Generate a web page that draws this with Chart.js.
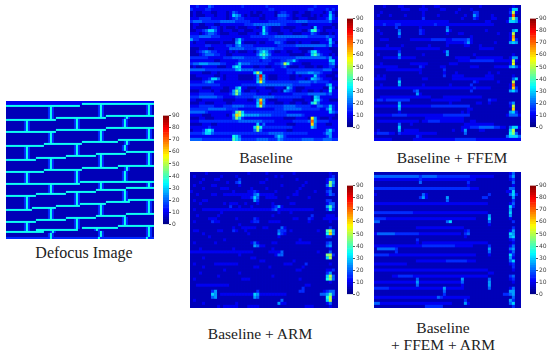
<!DOCTYPE html>
<html>
<head>
<meta charset="utf-8">
<script src="https://cdn.jsdelivr.net/npm/chart.js@4"></script>
<style>
  html, body { margin: 0; background: #fff; }
  #page { position: relative; width: 550px; height: 355px; overflow: hidden; }
  canvas { position: absolute; }
  canvas.heat { filter: blur(0.6px); background: #0000c8; }
  .caption { position: absolute; transform: translateX(-50%); white-space: nowrap; color: #222;
    font: 15.5px/18px "Liberation Serif", serif; }
</style>
</head>
<body>
<div id="page"></div>
<script>
// Error maps, one string per row. Each character is a level, value = level * 5 (0..90)
const defocusRows = [
  '22222222222222222222222222222222222222222222222222222222222222222222222222',
  '22222222222222222222222222222222222222777777777777777777777777777777777777',
  '77777777777777777777777777777777777771111111113731111111111111111111113731',
  '11111111111111111111137311111111111111111111113731111111111111111111113731',
  '11111111111111111111137311111111111111111111113731111111111111111111113731',
  '11111111111111111111137311111111111111111111113731111111111111111111113731',
  '11111111111111111111137311111111111111111111113731111111111111111111113731',
  '11111111111111111111137311111111111111111111113731777777777777777777777777',
  '11111111111111111111137317777777777777777777777777111111111373111111111111',
  '77777777777777777777777771111111113731111111111111111111113731111111111111',
  '11111111137311111111111111111111113731111111111111111111113731111111111111',
  '11111111137311111111111111111111113731111111111111111111113731111111111111',
  '11111111137311111111111111111111113731111111111111111111113731111111111111',
  '11111111137311111111111111111111113731111111111111777777777777777777777777',
  '11111111137311111111111117777777777777777777777777111111111111111111113731',
  '77777777777777777777777771111111111111111111113731111111111111111111113731',
  '11111111111111111111137311111111111111111111113731111111111111111111113731',
  '11111111111111111111137311111111111111111111113731111111111111111111113731',
  '11111111111111111111137311111111111111111111113731111111111111111111113731',
  '11111111111111111111137311111111111111111111113731111111777777777777777777',
  '11111111111111111111137311111111111111777777777777777777111373111111111111',
  '11111111111111111117777777777777777777111111111111111111111373111111111111',
  '77777777777777777771111111111111113731111111111111111111113731111111111111',
  '11111111137311111111111111111111113731111111111111111111113731111111111111',
  '11111111137311111111111111111111113731111111111111111111113731111111111111',
  '11111111137311111111111111111111113731111111111111111111111177777777777777',
  '11111111137311111111111111111111113731111111177777777777777711111111113731',
  '11111111137311111111111111111177777777777777713731111111111111111111113731',
  '11111111137311177777777777777711111111111111113731111111111111111111113731',
  '77777777777777711111137311111111111111111111113731111111111111111111113731',
  '11111111111111111111137311111111111111111111113731111111111111111111113731',
  '11111111111111111111137311111111111111111111113731111111111111111111113731',
  '11111111111111111111137311111111111111111111113731111111777777777777777777',
  '11111111111111111111137311111111111111777777777777777777111373111111111111',
  '11111111111111111117777777777777777777111111111111111111111373111111111111',
  '77777777777777777771111111111111113731111111111111111111113731111111111111',
  '11111111137311111111111111111111113731111111111111111111113731111111111111',
  '11111111137311111111111111111111113731111111111111111111113731111111111111',
  '11111111137311111111111111111111113731111111111111111111113731111111111111',
  '11111111137311111111111111111111113731111111111111111111113731111111111111',
  '11111111137311111111111111111111113737777777777777777777777777777777777777',
  '77777777777777777777777777777777777771111111113731111111111111111111113731',
  '11111111111111111111137311111111111111111111113731111111111111111111113731',
  '11111111111111111111137311111111111111111111113731111111111177777777777777',
  '11111111111111111111137311111111111111111111177777777777777711111111111111',
  '11111111111111111111137311111177777777777777711111111111113731111111111111',
  '11111111111111177777777777777711113731111111111111111111113731111111111111',
  '77777777777777711111111111111111113731111111111111111111113731111111111111',
  '11111111137311111111111111111111113731111111111111111111113731111111111111',
  '11111111137311111111111111111111113731111111111111111111113737777777777777',
  '11111111137311111111111111111111113731111111111111777777777777111111113731',
  '11111111137311111111111111111111113737777777777777111111111111111111113731',
  '11111111137311111111111117777777777771111111113731111111111111111111113731',
  '11111111137317777777777771111111111111111111113731111111111111111111113731',
  '77777777777771111111137311111111111111111111113731111111111111111111113731',
  '11111111111111111111137311111111111111111111113731111111111111111111113731',
  '11111111111111111111137311111111111111111111113731111111111177777777777777',
  '11111111111111111111137311111111111111111111177777777777777711111111111111',
  '11111111111111111111137311111177777777777777711111111111113731111111111111',
  '11111111111111177777777777777711113731111111111111111111113731111111111111',
  '77777777777777711111111111111111113731111111111111111111113731111111111111',
  '11111111137311111111111111111111113731111111111111111111113731111111111111',
  '11111111137311111111111111111111113731111111111111111111777777777777777777',
  '11111111137311111111111111111111113731777777777777777777111111111111113731',
  '11111111137311177777777777777777777711111111373111111111111111111111113731',
  '77777777777777777771113731111111111111111111113731111111111111111111113731',
  '11111111111111111111137311111111111111111111113731111111111111111111113731',
  '11111111111111111111137311111111111111111111113731111111111111111111113731',
  '33333333333333333333337333333333333333333333337333333333333333333333337333'
];
const baselineRows = [
  '2232224322222222232222222322222222222222232222222',
  '3222233222222222222222222233222222222223322223232',
  '1211222112221243222212112222123322112211222212521',
  '1211122212221265421211121222144432122111212122631',
  '2223333222221234332222211222233322112221112223632',
  '3444333333444443333322222233333333344443333333422',
  '1221122211222222223334444444443322222112222222211',
  '1211112332121112111222126321112111122222162211121',
  '1122346642122211221112227321112221222113783212222',
  '2221234432111222111222136422211222111222432111212',
  '3334444333222222222233333333444444444443333334332',
  '5332222222222214632222222233333322222222222223622',
  '2122211111211115721111211222443211121222111222631',
  '2222233222223324533332222222233333344444444443522',
  '1112221122222444443333444444333222221111122222111',
  '1123454332221212111221357532112211222113673222211',
  '1112344433221122222222478642222221111122685322121',
  '3333332222233344443333346433333333344444444443522',
  '2222222211222222333333323332223344632222222222662',
  '3445554444332223644433333322334a73222111222222452',
  '1211222221112257622221122112223421112211121122331',
  '4444433333333335644443333333222233333333333344422',
  '2222111221222222222226a62222222233244445544322211',
  '11222222112122221111125g5211122221121222263221112',
  '11112236642122221111125e5211122221122212654322211',
  '22223454222222222222226b5333333333334444343333222',
  '3333333333222222233333344444444444333333222224622',
  '2222111222211225722111222111222164211122222211731',
  '1112222122111259621122122221121543211221122122722',
  '2223333322222359533333222212222222333334444443422',
  '3334444443322223333334444444333333333222165222222',
  '22112222222111122221125c5211122222111122176322111',
  '11122111222211222222226e5222111221122112684222222',
  '22233333222333444433336a4333333444433333224433632',
  '3333334444443333222222222222333444444333333224732',
  '4444432222222238a63333333333333322222222222222643',
  '222211122222125ca75555544443333344444322222222221',
  '1112211122222249632222222222222111122221b52111211',
  '2223333333333333444444443333222222333334e53333222',
  '1111222112222222222222624222222211122222c42221122',
  '2222223222222222222226a733333333332222226422222222',
  '1222367522222222222224942222222211222222222224632',
  '3333466433333333333333333344444333333332222235522',
  '2222222222222276422222222222465322222222222223522',
  '4444333333333386533333444433354333333444433344433'
];
const ffemRows = [
  '1112111122111111211122111111111111121111111111211',
  '1111111112221112221111221111211121111111111112661',
  '1121111111111111211111111112111113311111111113a21',
  '1211121111211111211112111111112115311112111112e11',
  '1111111111111111311111111111121113211112211115a51',
  '2222222222222222222222222111111111111221111126652',
  '2223222332222222222232222222222222222222111111111',
  '1111111311111112111111114111111111111111111111111',
  '1211111141111113211111115211111111111211111111561',
  '1121111151111113211111112111221111111111121112a11',
  '1111111131111111111111111111111121111111111112d11',
  '1122211111112222222333332233333421111111111112c31',
  '1111111111111111111111112222223521111111211115651',
  '1111211112111111112111112111112211121111111111111',
  '2222222221111122222222111111111111122222111111111',
  '1111111131111111111111125111111111111111111111111',
  '1211111151111111211111115111111112111111111111211',
  '1112222242222211111111111112222211222222222112551',
  '1111111111111111111111111111222233333333222222a21',
  '1121111111112222221111111222111111111111111112b11',
  '2222222211111113211111221111111122211111222225642',
  '1111222222222222111111131111111111111111111111111',
  '1111111111111112111111121112111111111121121111111',
  '1212111111111111111111131122221111111222111111211',
  '2222111131111111221111111122222222222222111111461',
  '1111111161111111111111111111111113211111121111a11',
  '1121111151111111211111111211111131111111111112e11',
  '2222222222222222222222222222222223222221111112c31',
  '1111111111111341111111111111111131111111111115641',
  '1111111111111152111111111111111111111111111111111',
  '1122222222222222222111122222222222221111111111111',
  '2332333333331111111222222222211111111132211111111',
  '1111111151111111111111111211111111221121111113511',
  '2222222262222222222333333333333311111111111112a11',
  '1111111151111111111111111111111221111111111111c11',
  '1111111121111111111111111111121211111111111115631',
  '2222223333322222222222233333333311111111111124442',
  '1111111111111111122222222222221111111111111111111',
  '1222222222222221223333222222221122111111111111111',
  '1111111141112111111111111111112222222222111111111',
  '1111111161111111111111111111122233344444332214662',
  '1211111151222221111111111121125111122111111116a11',
  '2333322132222222222221111111114111111111111117941',
  '1111111111111132111111111111111111111111111146664',
  '2222221111111222222222222223333333222222222222222'
];
const armRows = [
  '1111121111111111111211111211111111211111111111211',
  '1211111111211112111111111111212111111111111111231',
  '1111211122111111311111111211111111121111111112441',
  '1112111111112113411111122111111111111121111112951',
  '1211111221111111211111111111112111111211111114941',
  '1111211111222111111121111211111111112111111112311',
  '2111111111111121111223211111211111121111121113411',
  '1121111221122222222224522222111111221111111112431',
  '1111111111111111122236411222211121111112111111111',
  '1211221111111111111115311111111111111111111113311',
  '1112111111121222112111211112111112211111111112441',
  '1111111111111311211121111112352111111111111115841',
  '1211222222222222222222222223422222222222211113731',
  '1111111111211111111111111111121112111111111111111',
  '1121111112111111111111111112111111111111311112221',
  '1111112221111112111113211111111111221113211122222',
  '1211111322111111111123311122221111111112111111211',
  '1111111111111111211111111111111111111111111111111',
  '1111111111111121122222112211114211111111111111311',
  '1221111112211132112111111111143312111111112118a51',
  '1111211111111111111211111111153211111111111117c51',
  '1111112111111111111111111111121111111111111113311',
  '1111111111121111111111111111111111112111111111111',
  '1211111121111111111124211112211111122222111113411',
  '1111111111111111111115422111111111111111111114511',
  '1112111111111121111111111112111111111111111111211',
  '2222222222222222222221111122224111111111112111411',
  '1111111111111111211111111111244111111111111119a31',
  '1111211111111111111122111111111111111111111116a11',
  '1111111111111111111111122111111111211111111111111',
  '1211111122222222111111111111111222111131111111211',
  '1111211111111111111112211121111111111211111111111',
  '1111111111121111111111111111111111122111111112231',
  '1112111111111111211111111111111111111111111113511',
  '1111111112111111111111111112111111111111111116a41',
  '1211111111111111122211111111111111112111111117941',
  '1111111111111111111111111111111111111111111111211',
  '1122222222222111111111111111111111111122111111111',
  '1111111111111111111111111111111111111311111111111',
  '1111111351111111111111311111111111113311111123441',
  '1111111651222222222226522222222211111111111445841',
  '1111111451111111111115411111111111111111111117a21',
  '1211111111111111111111111111114111111111111116a11',
  '1111211111111112111111111111152211111111111112411',
  '1111111112122222111222211111111111111122211111211'
];
const bothRows = [
  '1111111111111111111111111111111111111111111112411',
  '4444444444444443444443333333333322222222111113511',
  '2222222222222223222222222222222222111111111112311',
  '1111111111111114111111111111111311111111111111411',
  '1111111111111111111111111111111211111111111111211',
  '3333333333333333333333333333333322211111111114411',
  '1111111111111111111111111111111111111111111122611',
  '2111111111111111421111111111111111111131111114631',
  '1111111111111113521111115111111111113311111111511',
  '1111111111111111111111114111111111111111111111311',
  '2222222222222222222222222222222222222211111112411',
  '1111111111111111111111111111111111111111111116311',
  '1111111111111111111111111111111111111111111115111',
  '3333333333333222222222222222222222222211111116111',
  '1111111111111111111111111111111111111151111115111',
  '3333222222222222222222222222222222111161111112111',
  '4411111111111111111111114611111111111141111111311',
  '1111111111111111111111111111111111111121111111111',
  '1111111111111122222222222222221111111111111111311',
  '1111111111111111111111111111112311111111111112511',
  '2444444333333332222222222222213411111111111116511',
  '1111111111111111111111111111112111111111111115611',
  '1111111111111131111111111111111111111111111112311',
  '1111111111111121222222222222222222222211111111211',
  '2222222222222222333333333332222221111131111112411',
  '1444444311111111111111111111111111111151111114511',
  '1111111311111111111111111111111111111141111112411',
  '3333322222222222222222222222222222111121111116311',
  '1111111111111111111111111111111111111111111115211',
  '1111111111111122222222223333333222111111111114611',
  '2222222222211111111111111111111111111111111112311',
  '1111111111111111111111111111111111111111111111311',
  '2222222222222222222222222222222222222211111111211',
  '1111111111111111111111111111111111111122111111111',
  '1111112233333222222222222222222222222211111113411',
  '1111111111111141111111111111151111111141111112311',
  '2222222222222252222222222222241111111151111111211',
  '1111111111111141111111111111121111111151111111111',
  '3333322222222222222222252222221111111141111112411',
  '1111111111111111111111141111111111111111111115511',
  '1111111111111111111111131111111111111111111334511',
  '2222222222222222222224322222222211111111111111411',
  '1111111111111111111111111111113111111111111115311',
  '4422222222222222222222222211115211111111111114611',
  '1111111111111111133333311111111111111111111111311'
];

// Ticks and steps of the colour bars
const barTicks = [0, 10, 20, 30, 40, 50, 60, 70, 80, 90];
const barSteps = [0, 2, 4, 6, 8, 10, 12, 14, 16, 18, 20, 22, 24, 26, 28, 30, 32, 34, 36, 38, 40, 42, 44,
  46, 48, 50, 52, 54, 56, 58, 60, 62, 64, 66, 68, 70, 72, 74, 76, 78, 80, 82, 84, 86, 88];

const captions = [
  { text: 'Defocus Image', x: 84, y: 244, size: 16 },
  { text: 'Baseline', x: 266, y: 149, size: 15.5 },
  { text: 'Baseline + FFEM', x: 452, y: 149, size: 15.5 },
  { text: 'Baseline + ARM', x: 260, y: 325, size: 15.5 },
  { text: 'Baseline', x: 443, y: 319, size: 15.5 },
  { text: '+ FFEM + ARM', x: 443, y: 336, size: 15.5 }
];

const page = document.getElementById('page');

function addCanvas(x, y, w, h, cls) {
  const c = document.createElement('canvas');
  c.width = w;
  c.height = h;
  c.style.left = x + 'px';
  c.style.top = y + 'px';
  c.style.width = w + 'px';
  c.style.height = h + 'px';
  if (cls) c.className = cls;
  page.appendChild(c);
  return c.getContext('2d');
}

// jet colour map over 0..90
function jet(value) {
  const t = value / 90;
  const part = k => Math.round(255 * Math.max(0, Math.min(1, 1.5 - Math.abs(4 * t - k))));
  return `rgb(${part(3)},${part(2)},${part(1)})`;
}

function drawHeat(rows, x, y, w, h) {
  const cols = rows[0].length;
  const points = [];
  const colors = [];
  rows.forEach((row, r) => {
    for (let c = 0; c < row.length; c++) {
      const value = parseInt(row[c], 36) * 5;
      points.push({ x: c, y: r, v: value });
      colors.push(jet(value));
    }
  });
  new Chart(addCanvas(x, y, w, h, 'heat'), {
    type: 'scatter',
    data: {
      datasets: [{
        data: points,
        pointStyle: 'rect',
        pointRadius: (w / cols) * 0.76,
        pointBorderWidth: 0,
        pointBackgroundColor: colors
      }]
    },
    options: {
      responsive: false,
      animation: false,
      events: [],
      layout: { padding: 0, autoPadding: false },
      plugins: { legend: { display: false }, tooltip: { enabled: false } },
      scales: {
        x: { type: 'linear', display: false, min: -0.5, max: cols - 0.5 },
        y: { type: 'linear', display: false, reverse: true, min: -0.5, max: rows.length - 0.5 }
      }
    }
  });
}

function drawBar(x, y, h) {
  new Chart(addCanvas(x, y - 4, 24, h + 8), {
    type: 'bar',
    data: {
      labels: [''],
      datasets: barSteps.map(s => ({ data: [2], backgroundColor: jet(s + 1), barPercentage: 1, categoryPercentage: 1 }))
    },
    options: {
      responsive: false,
      animation: false,
      events: [],
      layout: { padding: { top: 4, bottom: 4 } },
      plugins: { legend: { display: false }, tooltip: { enabled: false } },
      scales: {
        x: { display: false, stacked: true },
        y: {
          stacked: true,
          position: 'right',
          min: 0,
          max: 90,
          afterFit: s => { s.width = 18; },
          afterBuildTicks: s => { s.ticks = barTicks.map(v => ({ value: v })); },
          border: { display: false },
          grid: { drawOnChartArea: false, tickLength: 2, color: '#555' },
          ticks: { font: { size: 6, family: 'DejaVu Sans' }, color: '#444', padding: 1, autoSkip: false }
        }
      }
    }
  });
}

drawHeat(defocusRows, 6, 101, 148, 138);
drawHeat(baselineRows, 190, 5, 148, 136);
drawHeat(ffemRows, 374, 5, 147, 136);
drawHeat(armRows, 190, 172, 148, 136);
drawHeat(bothRows, 374, 172, 147, 136);

drawBar(163, 115, 110);
drawBar(347, 18, 110);
drawBar(530, 18, 110);
drawBar(347, 185, 110);
drawBar(530, 185, 110);

captions.forEach(cap => {
  const d = document.createElement('div');
  d.className = 'caption';
  d.textContent = cap.text;
  d.style.left = cap.x + 'px';
  d.style.top = cap.y + 'px';
  d.style.fontSize = cap.size + 'px';
  page.appendChild(d);
});
</script>
</body>
</html>
